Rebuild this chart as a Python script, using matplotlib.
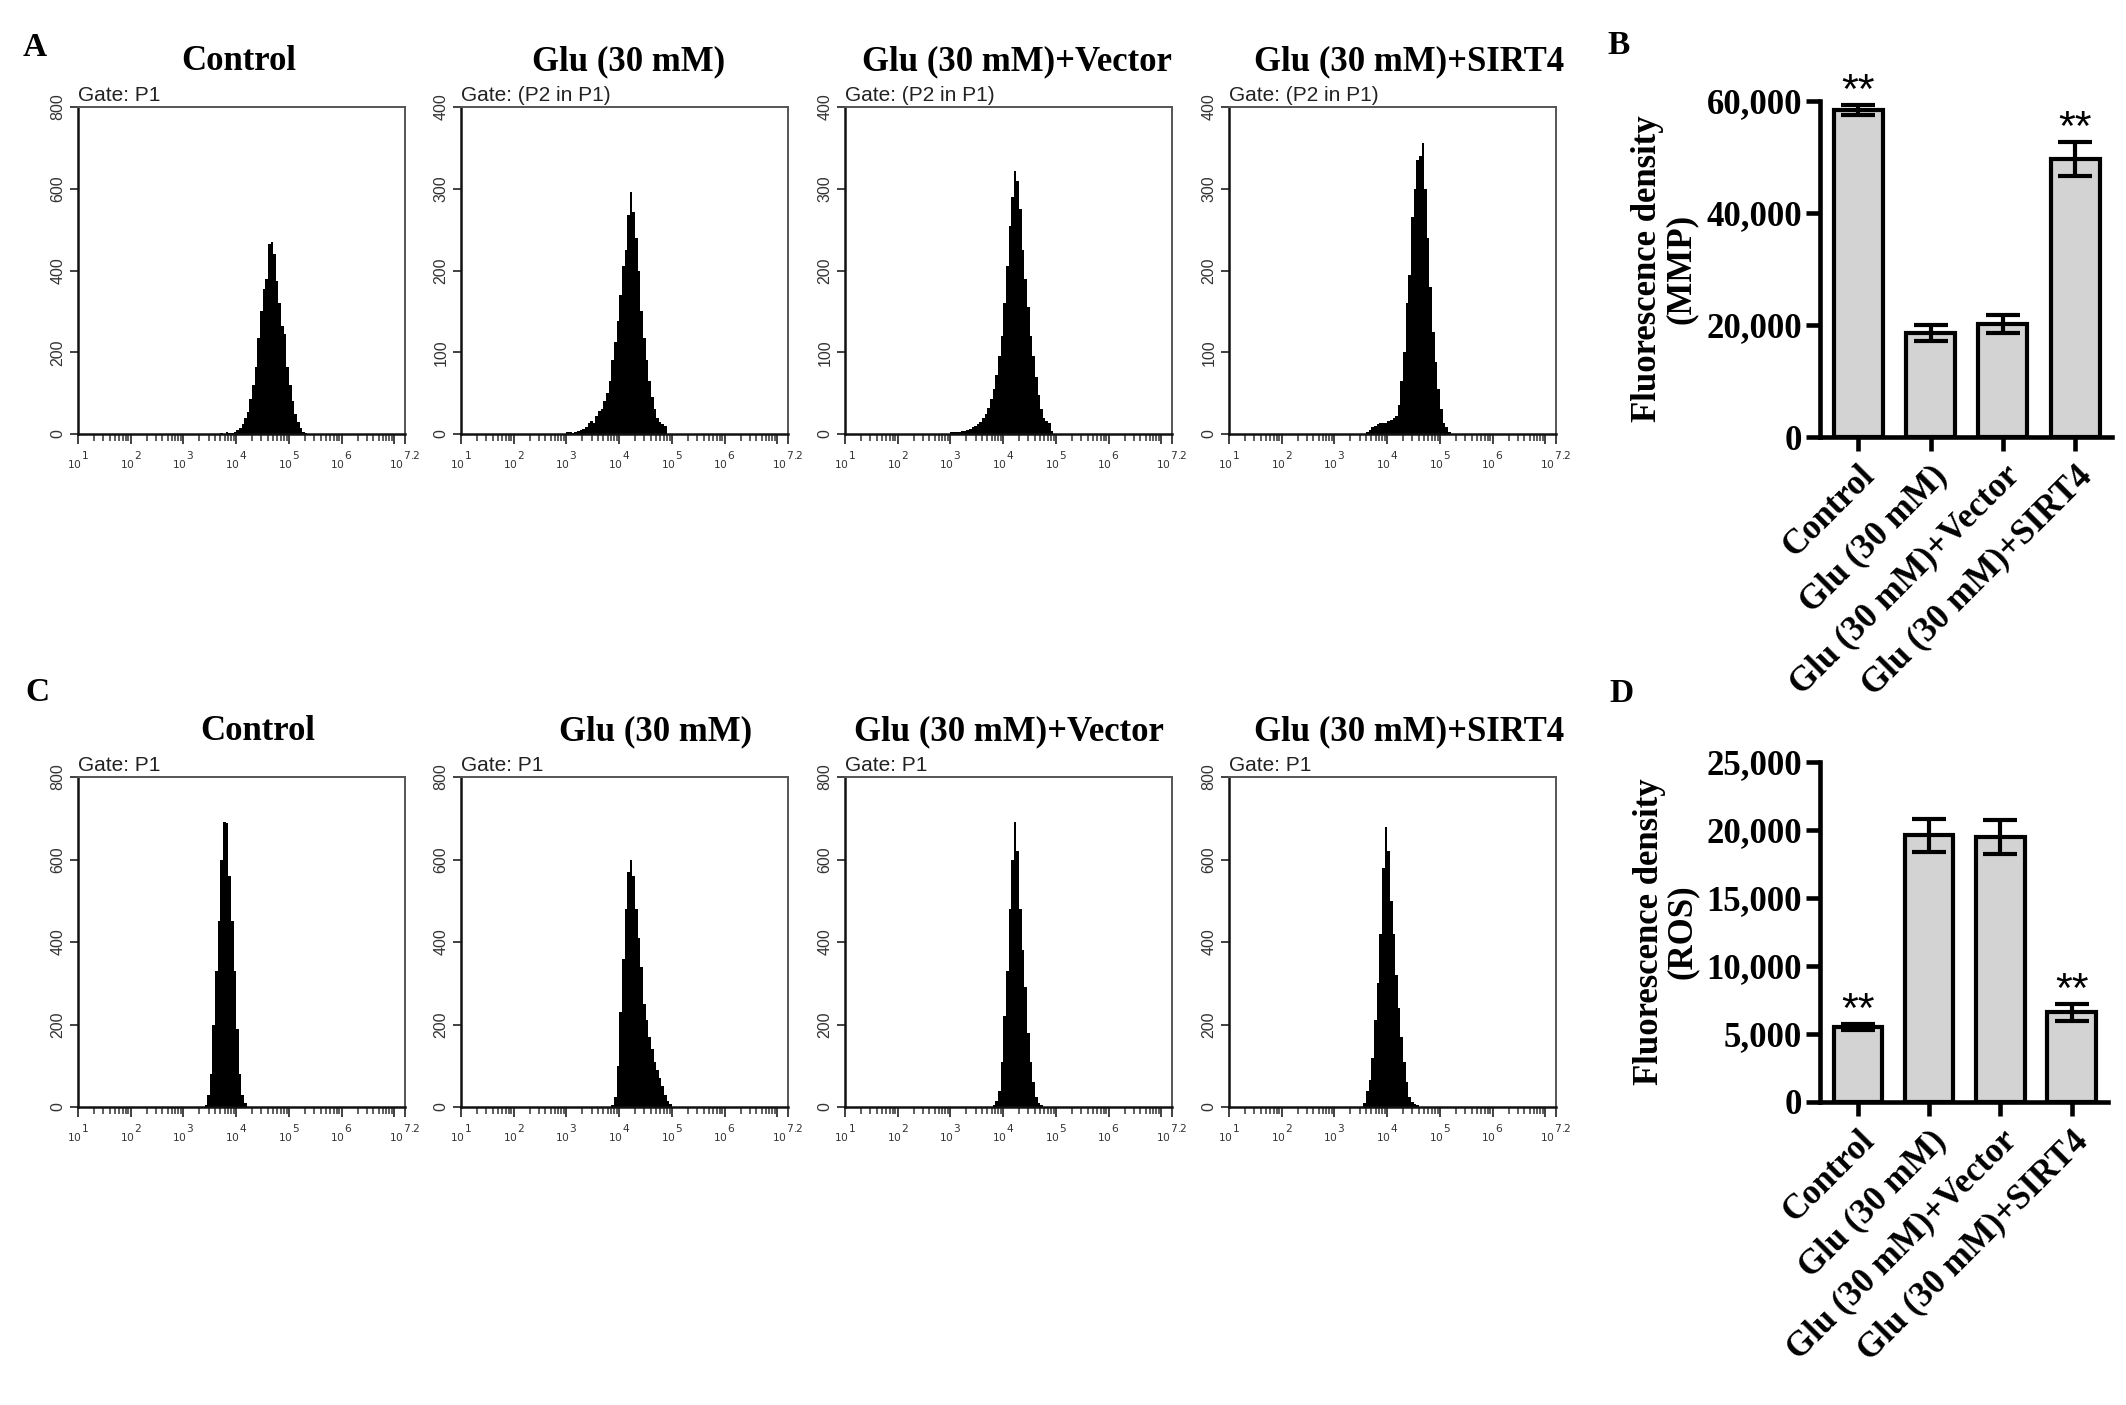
import numpy as np
import matplotlib
matplotlib.use('Agg')
import matplotlib.pyplot as plt
from matplotlib.ticker import FixedLocator, LogLocator, NullFormatter

W, H = 2126, 1405

groups = ['Control', 'Glu (30 mM)', 'Glu (30 mM)+Vector', 'Glu (30 mM)+SIRT4']

# flow cytometry histograms: log10 of first bin edge + counts per 0.05-decade bin
bin_step = 0.05

mmp_start = [3.70, 3.00, 3.00, 3.60]
mmp_counts = [
    [2, 1, 4, 3, 3, 6, 10, 14, 25, 38, 55, 85, 120, 165, 235, 300, 355, 380,
     465, 470, 440, 375, 320, 265, 245, 165, 120, 80, 50, 30, 15, 6, 2],
    [2, 3, 1, 2, 4, 5, 6, 8, 14, 16, 14, 22, 28, 31, 40, 50, 65, 90, 112, 138,
     170, 205, 225, 268, 296, 272, 240, 200, 150, 118, 90, 65, 45, 30, 20, 15, 12, 10],
    [2, 2, 3, 3, 4, 4, 5, 6, 8, 10, 12, 15, 19, 25, 32, 43, 55, 72, 95, 120,
     160, 205, 255, 290, 322, 310, 275, 225, 190, 155, 120, 95, 70, 48, 30, 20, 16, 14, 4],
    [3, 5, 8, 10, 12, 13, 13, 14, 16, 17, 20, 22, 35, 65, 100, 160, 195, 265,
     300, 335, 340, 356, 300, 240, 180, 125, 88, 55, 30, 14, 8, 3],
]
mmp_ymax = [800, 400, 400, 400]
mmp_gates = ['Gate: P1', 'Gate: (P2 in P1)', 'Gate: (P2 in P1)', 'Gate: (P2 in P1)']

ros_start = [3.40, 3.85, 3.80, 3.55]
ros_counts = [
    [5, 30, 80, 200, 330, 450, 600, 690, 688, 560, 450, 330, 190, 80, 30, 10],
    [5, 25, 100, 230, 360, 480, 570, 600, 560, 480, 410, 340, 250, 210, 170,
     140, 110, 90, 70, 50, 30, 15, 8],
    [4, 15, 40, 110, 220, 330, 480, 600, 690, 620, 480, 380, 290, 180, 110, 60, 25, 10, 5],
    [10, 40, 65, 120, 210, 300, 420, 580, 680, 620, 500, 420, 320, 240, 170,
     110, 60, 25, 12, 8, 5],
]
ros_ymax = [800, 800, 800, 800]
ros_gates = ['Gate: P1', 'Gate: P1', 'Gate: P1', 'Gate: P1']

# bar charts (mean, error)
mmp_mean = [58400, 18600, 20250, 49600]
mmp_err = [900, 1400, 1600, 3050]
mmp_sig = ['**', '', '', '**']
ros_mean = [5500, 19600, 19500, 6600]
ros_err = [200, 1220, 1270, 610]
ros_sig = ['**', '', '', '**']

SERIF = 'Liberation Serif'
SANS = 'Liberation Sans'

fig = plt.figure(figsize=(W / 100, H / 100), dpi=100)


def rect(left, top, right, bottom):
    return [left / W, 1 - bottom / H, (right - left) / W, (bottom - top) / H]


def histogram(r, start, counts, ymax, gate):
    ax = fig.add_axes(r)
    edges = 10 ** (start + bin_step * np.arange(len(counts) + 1))
    ax.stairs(counts, edges, fill=True, color='black', linewidth=0)
    ax.set_xscale('log')
    ax.set_xlim(10, 10 ** 7.2)
    ax.set_ylim(0, ymax)
    major = [10.0 ** k for k in range(1, 8)] + [10 ** 7.2]
    labels = [r'${}_{10}{}^{%d}$' % k for k in range(1, 7)] + ['', r'${}_{10}{}^{7.2}$']
    ax.xaxis.set_major_locator(FixedLocator(major))
    ax.set_xticklabels(labels, fontsize=11, color='#333333')
    ax.xaxis.set_minor_locator(LogLocator(base=10, subs=np.arange(2, 10), numticks=20))
    ax.xaxis.set_minor_formatter(NullFormatter())
    yt = np.linspace(0, ymax, 5)
    ax.set_yticks(yt)
    ax.set_yticklabels([str(int(v)) for v in yt], rotation=90, va='center',
                       fontsize=11.5, color='#333333', family=SANS)
    ax.tick_params(axis='x', which='major', length=7, width=1.3, pad=4, color='#333333')
    ax.tick_params(axis='x', which='minor', length=5, width=1.1, color='#333333')
    ax.tick_params(axis='y', length=6, width=1.3, pad=3, color='#333333')
    for s in ['left', 'bottom']:
        ax.spines[s].set_linewidth(1.8)
        ax.spines[s].set_color('#111111')
    for s in ['top', 'right']:
        ax.spines[s].set_linewidth(1.4)
        ax.spines[s].set_color('#555555')
    ax.text(0.0, 1.005, gate, transform=ax.transAxes, ha='left', va='bottom',
            fontsize=15, color='#222222', family=SANS)
    return ax


hist_left = [78, 461, 845, 1229]
hist_w = 327
for i in range(4):
    l = hist_left[i]
    histogram(rect(l, 107, l + hist_w, 434), mmp_start[i], mmp_counts[i], mmp_ymax[i], mmp_gates[i])
    histogram(rect(l, 777, l + hist_w, 1107), ros_start[i], ros_counts[i], ros_ymax[i], ros_gates[i])

title_x1 = [239, 629, 1017, 1409]
title_x2 = [258, 656, 1009, 1409]
for i, g in enumerate(groups):
    fig.text(title_x1[i] / W, 1 - 62 / H, g, ha='center', va='center',
             fontsize=25, fontweight='bold', family=SERIF)
    fig.text(title_x2[i] / W, 1 - 732 / H, g, ha='center', va='center',
             fontsize=25, fontweight='bold', family=SERIF)


def bar_panel(r, means, errs, sig, ymax, step, ylabel):
    ax = fig.add_axes(r)
    x = np.arange(len(groups))
    ax.bar(x, means, width=0.68, color='#d3d3d3', edgecolor='black', linewidth=3.0, zorder=2)
    ax.errorbar(x, means, yerr=errs, fmt='none', ecolor='black', elinewidth=3,
                capsize=12.5, capthick=3, zorder=3)
    for xi, m, e, s in zip(x, means, errs, sig):
        if s:
            ax.annotate(s, (xi, m + e), xytext=(0, -5), textcoords='offset points',
                        ha='center', va='bottom', fontsize=31, family=SANS)
    ax.set_xlim(-0.53, 3.51)
    ax.set_ylim(0, ymax)
    ticks = np.arange(0, ymax + 1, step)
    ax.set_yticks(ticks)
    ax.set_yticklabels(['{:,}'.format(int(t)) for t in ticks], fontsize=25,
                       fontweight='bold', family=SERIF)
    ax.set_xticks(x)
    ax.set_xticklabels(groups, rotation=45, ha='right', rotation_mode='anchor',
                       fontsize=25, fontweight='bold', family=SERIF)
    ax.spines['top'].set_visible(False)
    ax.spines['right'].set_visible(False)
    ax.spines['left'].set_linewidth(3.3)
    ax.spines['bottom'].set_linewidth(3.3)
    ax.spines['left'].set_bounds(0, ymax)
    ax.tick_params(axis='both', length=10, width=3.3, pad=3)
    ax.tick_params(axis='x', pad=6)
    ax.set_ylabel(ylabel, fontsize=25, fontweight='bold', family=SERIF, linespacing=1.0)
    ax.yaxis.set_label_coords(-0.42, 0.5)
    return ax


bar_panel(rect(1820, 101, 2112, 437), mmp_mean, mmp_err, mmp_sig, 60000, 20000,
          'Fluorescence density\n(MMP)')
bar_panel(rect(1820, 762, 2108, 1102), ros_mean, ros_err, ros_sig, 25000, 5000,
          'Fluorescence density\n(ROS)')

for letter, (px, py) in zip('ABCD', [(35, 48), (1619, 45), (37, 692), (1622, 694)]):
    fig.text(px / W, 1 - py / H, letter, ha='center', va='center',
             fontsize=24, fontweight='bold', family=SERIF)

fig.savefig('out.png', dpi=100, facecolor='white')
